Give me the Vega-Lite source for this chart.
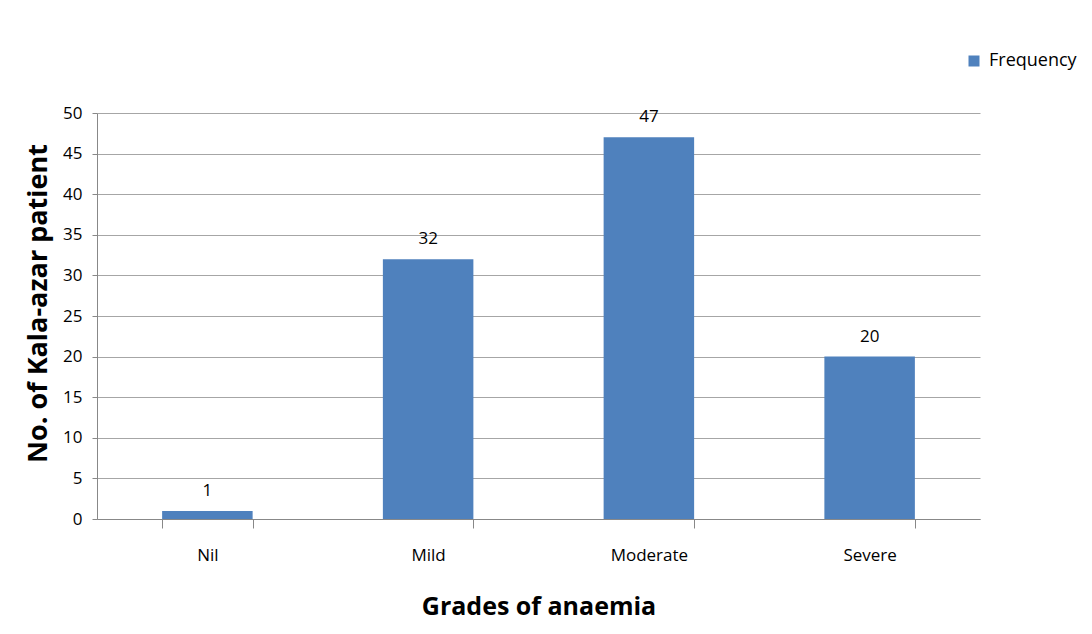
{
  "$schema": "https://vega.github.io/schema/vega-lite/v6.json",
  "width": 883,
  "height": 406,
  "autosize": {"type": "none"},
  "padding": {"left": 97, "top": 113, "right": 112, "bottom": 115},
  "background": "white",
  "config": {"font": "Open Sans", "view": {"stroke": null}},
  "data": {
    "values": [
      {"grade": "Nil", "count": 1, "series": "Frequency"},
      {"grade": "Mild", "count": 32, "series": "Frequency"},
      {"grade": "Moderate", "count": 47, "series": "Frequency"},
      {"grade": "Severe", "count": 20, "series": "Frequency"}
    ]
  },
  "encoding": {
    "x": {
      "field": "grade",
      "type": "nominal",
      "sort": null,
      "scale": {"paddingInner": 0.59, "paddingOuter": 0.295},
      "axis": {
        "title": "Grades of anaemia",
        "titleFontSize": 25,
        "titleFontWeight": "bold",
        "titleColor": "black",
        "titlePadding": 31,
        "labelAngle": 0,
        "labelFontSize": 17,
        "labelColor": "black",
        "labelPadding": 19,
        "tickBand": "extent",
        "tickSize": 9,
        "tickColor": "#888888",
        "domainColor": "#888888",
        "grid": false
      }
    },
    "y": {
      "field": "count",
      "type": "quantitative",
      "scale": {"domain": [0, 50], "nice": false},
      "axis": {
        "title": "No. of Kala-azar patient",
        "titleFontSize": 27,
        "titleFontWeight": "bold",
        "titleColor": "black",
        "titlePadding": 10,
        "titleY": 190,
        "values": [0, 5, 10, 15, 20, 25, 30, 35, 40, 45, 50],
        "labelFontSize": 17,
        "labelColor": "black",
        "labelPadding": 10,
        "tickSize": 5,
        "tickColor": "#888888",
        "domainColor": "#888888",
        "grid": true,
        "gridColor": "#a6a6a6",
        "gridOpacity": 1
      }
    }
  },
  "layer": [
    {
      "mark": {"type": "bar"},
      "encoding": {
        "color": {
          "field": "series",
          "type": "nominal",
          "scale": {"range": ["#4F81BD"]},
          "legend": {
            "title": null,
            "orient": "none",
            "legendX": 868,
            "legendY": -61,
            "symbolType": "square",
            "symbolSize": 121,
            "symbolStrokeWidth": 0,
            "symbolOpacity": 1,
            "labelFontSize": 18,
            "labelColor": "black",
            "labelOffset": 6
          }
        }
      }
    },
    {
      "mark": {"type": "text", "baseline": "alphabetic", "dy": -15, "fontSize": 17, "color": "black"},
      "encoding": {"text": {"field": "count", "type": "quantitative"}}
    }
  ]
}
